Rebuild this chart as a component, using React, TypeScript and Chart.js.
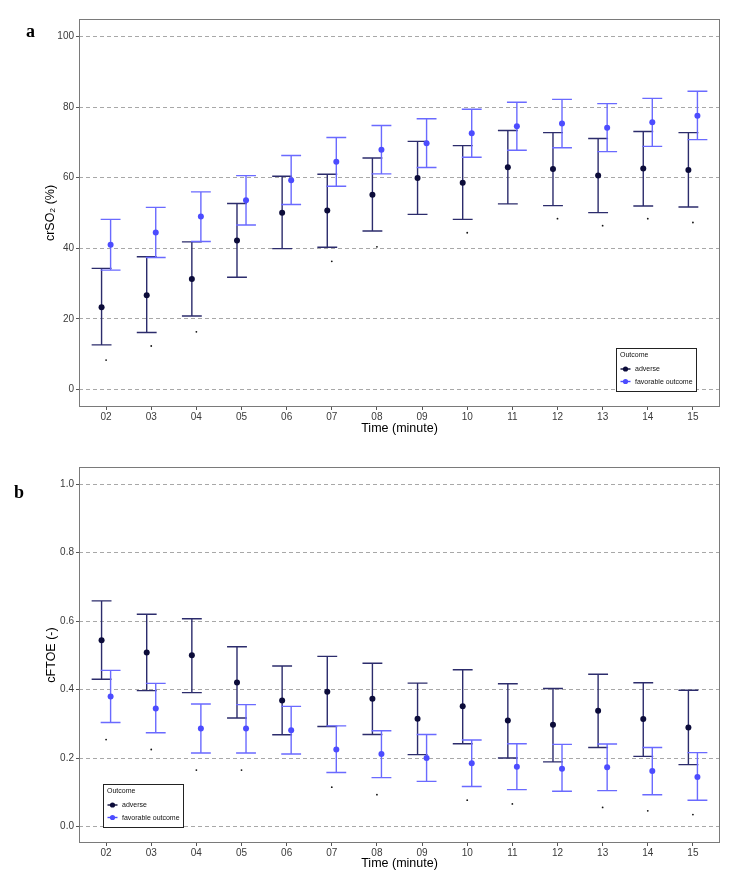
import React, { useEffect, useRef } from "react";
import { Chart, registerables } from "chart.js";

Chart.register(...registerables);

// ---------- data ----------
const minutes = [2, 3, 4, 5, 6, 7, 8, 9, 10, 11, 12, 13, 14, 15];
const minuteLabels = ["02", "03", "04", "05", "06", "07", "08", "09", "10", "11", "12", "13", "14", "15"];

// panel a: crSO2 (%)
const crso2AdverseMean = [23.3, 26.7, 31.3, 42.2, 50.1, 50.7, 55.2, 59.9, 58.6, 63.0, 62.5, 60.6, 62.6, 62.2];
const crso2AdverseLow = [12.6, 16.1, 20.8, 31.8, 39.9, 40.3, 44.9, 49.6, 48.2, 52.6, 52.1, 50.1, 52.0, 51.7];
const crso2AdverseHigh = [34.3, 37.6, 41.8, 52.7, 60.4, 61.0, 65.6, 70.3, 69.1, 73.4, 72.8, 71.1, 73.1, 72.8];
const crso2FavMean = [41.0, 44.5, 49.0, 53.6, 59.3, 64.5, 67.9, 69.8, 72.6, 74.6, 75.4, 74.2, 75.7, 77.6];
const crso2FavLow = [33.8, 37.4, 41.9, 46.6, 52.4, 57.6, 61.1, 62.9, 65.8, 67.8, 68.5, 67.4, 68.9, 70.8];
const crso2FavHigh = [48.2, 51.6, 56.0, 60.6, 66.3, 71.4, 74.8, 76.7, 79.4, 81.4, 82.2, 81.0, 82.5, 84.5];
const crso2Marks: (number | null)[] = [8.3, 12.3, 16.3, null, null, 36.3, 40.4, null, 44.4, null, 48.4, 46.4, 48.4, 47.3];
const crso2Ticks = [0, 20, 40, 60, 80, 100];

// panel b: cFTOE (-)
const cftoeAdverseMean = [0.544, 0.508, 0.5, 0.421, 0.368, 0.394, 0.373, 0.315, 0.351, 0.31, 0.297, 0.338, 0.314, 0.289];
const cftoeAdverseLow = [0.43, 0.397, 0.391, 0.317, 0.268, 0.292, 0.269, 0.21, 0.242, 0.2, 0.189, 0.231, 0.205, 0.181];
const cftoeAdverseHigh = [0.659, 0.62, 0.607, 0.525, 0.469, 0.497, 0.477, 0.419, 0.458, 0.417, 0.403, 0.445, 0.42, 0.398];
const cftoeFavMean = [0.38, 0.345, 0.286, 0.286, 0.281, 0.225, 0.212, 0.2, 0.185, 0.175, 0.169, 0.173, 0.162, 0.145];
const cftoeFavLow = [0.304, 0.274, 0.215, 0.215, 0.212, 0.158, 0.143, 0.132, 0.117, 0.108, 0.103, 0.105, 0.093, 0.077];
const cftoeFavHigh = [0.456, 0.418, 0.358, 0.356, 0.351, 0.294, 0.28, 0.269, 0.253, 0.242, 0.24, 0.241, 0.231, 0.216];
const cftoeMarks: (number | null)[] = [0.254, 0.225, 0.165, 0.165, null, 0.115, 0.093, null, 0.077, 0.066, null, 0.056, 0.046, 0.035];
const cftoeTicks = [0, 0.2, 0.4, 0.6, 0.8, 1.0];

const seriesNames = ["adverse", "favorable outcome"];

// ---------- styles ----------
const FONT = "'Liberation Sans', Arial, sans-serif";
const ADV_POINT = "#0c0c3a";
const ADV_BAR = "#2c2c6c";
const FAV_POINT = "#4c4cff";
const FAV_BAR = "#6a6aff";
const DODGE = 0.1;
const CAP_HALF = 0.22;

type Series = { mean: number[]; low: number[]; high: number[] };

type PanelSpec = {
  height: number;
  top: number;
  padTop: number;
  xAxisHeight: number;
  xTitlePadBottom: number;
  yTitlePadTop: number;
  yMin: number;
  yMax: number;
  yTicks: number[];
  decimals: number;
  yTitle: string;
  adverse: Series;
  favorable: Series;
  marks: (number | null)[];
  legendSide: "right" | "left";
  panelLabel: string;
  panelLabelX: number;
  panelLabelY: number;
};

function makeChart(canvas: HTMLCanvasElement, spec: PanelSpec) {
  const seriesDefs = [
    { s: spec.adverse, offset: -DODGE, bar: ADV_BAR, point: ADV_POINT },
    { s: spec.favorable, offset: DODGE, bar: FAV_BAR, point: FAV_POINT },
  ];

  const framePlugin = {
    id: "frameAndBars",
    beforeDatasetsDraw(chart: any) {
      const { ctx, chartArea, scales } = chart;
      const xs = scales.x;
      const ys = scales.y;
      ctx.save();
      // frame
      ctx.strokeStyle = "#7a7a7a";
      ctx.lineWidth = 1;
      ctx.strokeRect(chartArea.left + 0.5, chartArea.top + 0.5, chartArea.right - chartArea.left - 1, chartArea.bottom - chartArea.top - 1);
      // error bars
      ctx.lineWidth = 1.4;
      seriesDefs.forEach((d) => {
        ctx.strokeStyle = d.bar;
        minutes.forEach((m, i) => {
          const x = xs.getPixelForValue(m + d.offset);
          const xl = xs.getPixelForValue(m + d.offset - CAP_HALF);
          const xr = xs.getPixelForValue(m + d.offset + CAP_HALF);
          const yl = ys.getPixelForValue(d.s.low[i]);
          const yh = ys.getPixelForValue(d.s.high[i]);
          ctx.beginPath();
          ctx.moveTo(x, yl);
          ctx.lineTo(x, yh);
          ctx.moveTo(xl, yl);
          ctx.lineTo(xr, yl);
          ctx.moveTo(xl, yh);
          ctx.lineTo(xr, yh);
          ctx.stroke();
        });
      });
      ctx.restore();
    },
    afterDraw(chart: any) {
      const { ctx, chartArea } = chart;
      ctx.save();
      // panel label
      ctx.fillStyle = "#000";
      ctx.font = "bold 18px 'Liberation Serif', 'Times New Roman', serif";
      ctx.textBaseline = "alphabetic";
      ctx.textAlign = "left";
      ctx.fillText(spec.panelLabel, spec.panelLabelX, spec.panelLabelY);
      // legend box
      const w = 80;
      const h = 43;
      const left = spec.legendSide === "right" ? chartArea.right - 24 - w : chartArea.left + 24;
      const top = chartArea.bottom - 16 - h;
      ctx.fillStyle = "#fff";
      ctx.fillRect(left, top, w, h);
      ctx.strokeStyle = "#222";
      ctx.lineWidth = 1;
      ctx.strokeRect(left + 0.5, top + 0.5, w, h);
      ctx.fillStyle = "#111";
      ctx.font = `7px ${FONT}`;
      ctx.textBaseline = "middle";
      ctx.fillText("Outcome", left + 4, top + 7.5);
      const rows = [
        { name: seriesNames[0], color: ADV_POINT, y: top + 21 },
        { name: seriesNames[1], color: FAV_POINT, y: top + 33.5 },
      ];
      rows.forEach((r) => {
        ctx.strokeStyle = r.color;
        ctx.lineWidth = 1.4;
        ctx.beginPath();
        ctx.moveTo(left + 4.5, r.y);
        ctx.lineTo(left + 14.5, r.y);
        ctx.stroke();
        ctx.fillStyle = r.color;
        ctx.beginPath();
        ctx.arc(left + 9.5, r.y, 2.6, 0, Math.PI * 2);
        ctx.fill();
        ctx.fillStyle = "#111";
        ctx.fillText(r.name, left + 19, r.y + 0.5);
      });
      ctx.restore();
    },
  };

  const markData = minutes
    .map((m, i) => ({ x: m, y: spec.marks[i] }))
    .filter((p) => p.y !== null) as { x: number; y: number }[];

  return new Chart(canvas, {
    type: "scatter",
    data: {
      datasets: [
        {
          label: seriesNames[0],
          data: minutes.map((m, i) => ({ x: m - DODGE, y: spec.adverse.mean[i] })),
          backgroundColor: ADV_POINT,
          borderColor: ADV_POINT,
          pointRadius: 3,
          borderWidth: 0,
        },
        {
          label: seriesNames[1],
          data: minutes.map((m, i) => ({ x: m + DODGE, y: spec.favorable.mean[i] })),
          backgroundColor: FAV_POINT,
          borderColor: FAV_POINT,
          pointRadius: 3,
          borderWidth: 0,
        },
        {
          label: "marks",
          data: markData,
          backgroundColor: "#111",
          borderColor: "#111",
          pointRadius: 0.9,
          borderWidth: 0,
        },
      ],
    },
    options: {
      responsive: false,
      maintainAspectRatio: false,
      animation: false,
      events: [],
      layout: { padding: { left: 0, right: 24, top: spec.padTop, bottom: 0 } },
      plugins: { legend: { display: false }, tooltip: { enabled: false } },
      scales: {
        x: {
          type: "linear",
          min: 1.4,
          max: 15.6,
          afterBuildTicks: (s: any) => {
            s.ticks = minutes.map((v) => ({ value: v }));
          },
          afterFit: (s: any) => {
            s.height = spec.xAxisHeight;
          },
          ticks: {
            autoSkip: false,
            maxRotation: 0,
            padding: 1,
            color: "#3a3a3a",
            font: { family: FONT, size: 10 },
            callback: (_v: any, i: number) => minuteLabels[i],
          },
          grid: { drawOnChartArea: false, drawTicks: true, tickLength: 3, tickColor: "#555", color: "#555" },
          border: { display: false },
          title: {
            display: true,
            text: "Time (minute)",
            color: "#000",
            font: { family: FONT, size: 12.5 },
            padding: { top: 0, bottom: spec.xTitlePadBottom },
          },
        },
        y: {
          type: "linear",
          min: spec.yMin,
          max: spec.yMax,
          afterBuildTicks: (s: any) => {
            s.ticks = spec.yTicks.map((v) => ({ value: v }));
          },
          afterFit: (s: any) => {
            s.width = 79;
          },
          ticks: {
            padding: 2,
            color: "#3a3a3a",
            font: { family: FONT, size: 10 },
            callback: (v: any) => Number(v).toFixed(spec.decimals),
          },
          grid: {
            color: "#a8a8a8",
            lineWidth: 1,
            drawTicks: true,
            tickLength: 3,
            tickColor: "#555",
            tickBorderDash: [],
          },
          border: { display: false, dash: [4, 3] },
          title: {
            display: true,
            text: spec.yTitle,
            color: "#000",
            font: { family: FONT, size: 12.5 },
            padding: { top: spec.yTitlePadTop, bottom: 0 },
          },
        },
      },
    },
    plugins: [framePlugin],
  } as any);
}

function Panel({ spec }: { spec: PanelSpec }) {
  const ref = useRef<HTMLCanvasElement | null>(null);
  useEffect(() => {
    if (!ref.current) return;
    const chart = makeChart(ref.current, spec);
    return () => chart.destroy();
  }, [spec]);
  return (
    <canvas
      ref={ref}
      width={744}
      height={spec.height}
      style={{ position: "absolute", left: 0, top: spec.top, width: 744, height: spec.height }}
    />
  );
}

const panelA: PanelSpec = {
  height: 440,
  top: 0,
  padTop: 19,
  xAxisHeight: 33,
  xTitlePadBottom: 4,
  yTitlePadTop: 43,
  yMin: -5,
  yMax: 105,
  yTicks: crso2Ticks,
  decimals: 0,
  yTitle: "crSO\u2082 (%)",
  adverse: { mean: crso2AdverseMean, low: crso2AdverseLow, high: crso2AdverseHigh },
  favorable: { mean: crso2FavMean, low: crso2FavLow, high: crso2FavHigh },
  marks: crso2Marks,
  legendSide: "right",
  panelLabel: "a",
  panelLabelX: 26,
  panelLabelY: 37,
};

const panelB: PanelSpec = {
  height: 443,
  top: 440,
  padTop: 27,
  xAxisHeight: 40,
  xTitlePadBottom: 12,
  yTitlePadTop: 44,
  yMin: -0.048,
  yMax: 1.05,
  yTicks: cftoeTicks,
  decimals: 1,
  yTitle: "cFTOE (-)",
  adverse: { mean: cftoeAdverseMean, low: cftoeAdverseLow, high: cftoeAdverseHigh },
  favorable: { mean: cftoeFavMean, low: cftoeFavLow, high: cftoeFavHigh },
  marks: cftoeMarks,
  legendSide: "left",
  panelLabel: "b",
  panelLabelX: 14,
  panelLabelY: 58,
};

export default function App() {
  return (
    <div style={{ position: "absolute", left: 0, top: 0, width: 744, height: 883, background: "#fff" }}>
      <Panel spec={panelA} />
      <Panel spec={panelB} />
    </div>
  );
}
